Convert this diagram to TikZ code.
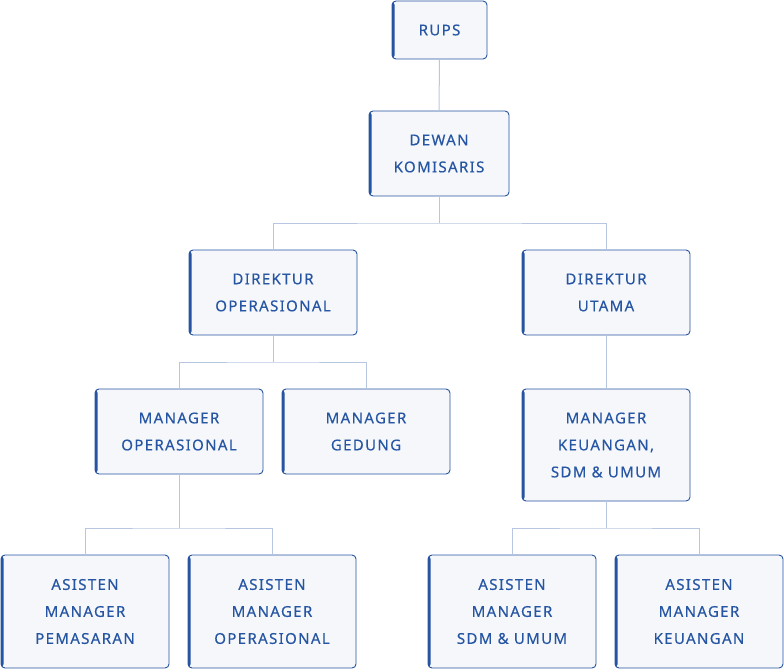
\documentclass[tikz,border=0pt]{standalone}
\usepackage{fontspec}
\setmainfont[LetterSpace=9,FakeBold=0.35]{Noto Sans}
\definecolor{bcol}{HTML}{2654A1}
\definecolor{tcol}{HTML}{2656A3}
\definecolor{bfill}{HTML}{F5F7FB}
\definecolor{lcol}{HTML}{B7C7E2}
\begin{document}
\begin{tikzpicture}[x=1pt,y=-1pt,
  box/.style={draw=bcol, fill=bfill, line width=0.9pt, rounded corners=4pt,
    inner sep=0pt, align=center, text=tcol,
    font=\fontsize{15}{27}\selectfont,
    minimum width=168pt,
    path picture={\fill[bcol] (path picture bounding box.north west) rectangle ([xshift=2.6pt]path picture bounding box.south west);}},
  conn/.style={draw=lcol, line width=1pt}]
\useasboundingbox (0,0) rectangle (784,669);
% nodes
\node[box, minimum width=95pt, minimum height=58pt] (rups) at (439.5,30) {RUPS};
\node[box, minimum width=140pt, minimum height=85pt] (dk) at (439,153.5) {DEWAN\\KOMISARIS};
\node[box, minimum height=85pt] (dop) at (273,292.5) {DIREKTUR\\OPERASIONAL};
\node[box, minimum height=85pt] (du) at (606,292.5) {DIREKTUR\\UTAMA};
\node[box, minimum height=85pt] (mo) at (179,431.5) {MANAGER\\OPERASIONAL};
\node[box, minimum height=85pt] (mg) at (366,431.5) {MANAGER\\GEDUNG};
\node[box, minimum height=112pt] (mk) at (606,445) {MANAGER\\KEUANGAN,\\SDM \& UMUM};
\node[box, minimum height=113pt] (ap) at (85,611.5) {ASISTEN\\MANAGER\\PEMASARAN};
\node[box, minimum height=113pt] (ao) at (272,611.5) {ASISTEN\\MANAGER\\OPERASIONAL};
\node[box, minimum height=113pt] (as) at (512,611.5) {ASISTEN\\MANAGER\\SDM \& UMUM};
\node[box, minimum height=113pt] (ak) at (699,611.5) {ASISTEN\\MANAGER\\KEUANGAN};
% connectors
\coordinate (j1) at (439,223);
\coordinate (j2) at (273,362);
\coordinate (j3) at (179,528);
\coordinate (j4) at (606,528);
\draw[conn] (rups.south) -- (dk.north);
\draw[conn] (dk.south) -- (j1);
\draw[conn] (dop.north) |- (j1) -| (du.north);
\draw[conn] (dop.south) -- (j2);
\draw[conn] (mo.north) |- (j2) -| (mg.north);
\draw[conn] (du.south) -- (mk.north);
\draw[conn] (mo.south) -- (j3);
\draw[conn] (ap.north) |- (j3) -| (ao.north);
\draw[conn] (mk.south) -- (j4);
\draw[conn] (as.north) |- (j4) -| (ak.north);
\end{tikzpicture}
\end{document}
